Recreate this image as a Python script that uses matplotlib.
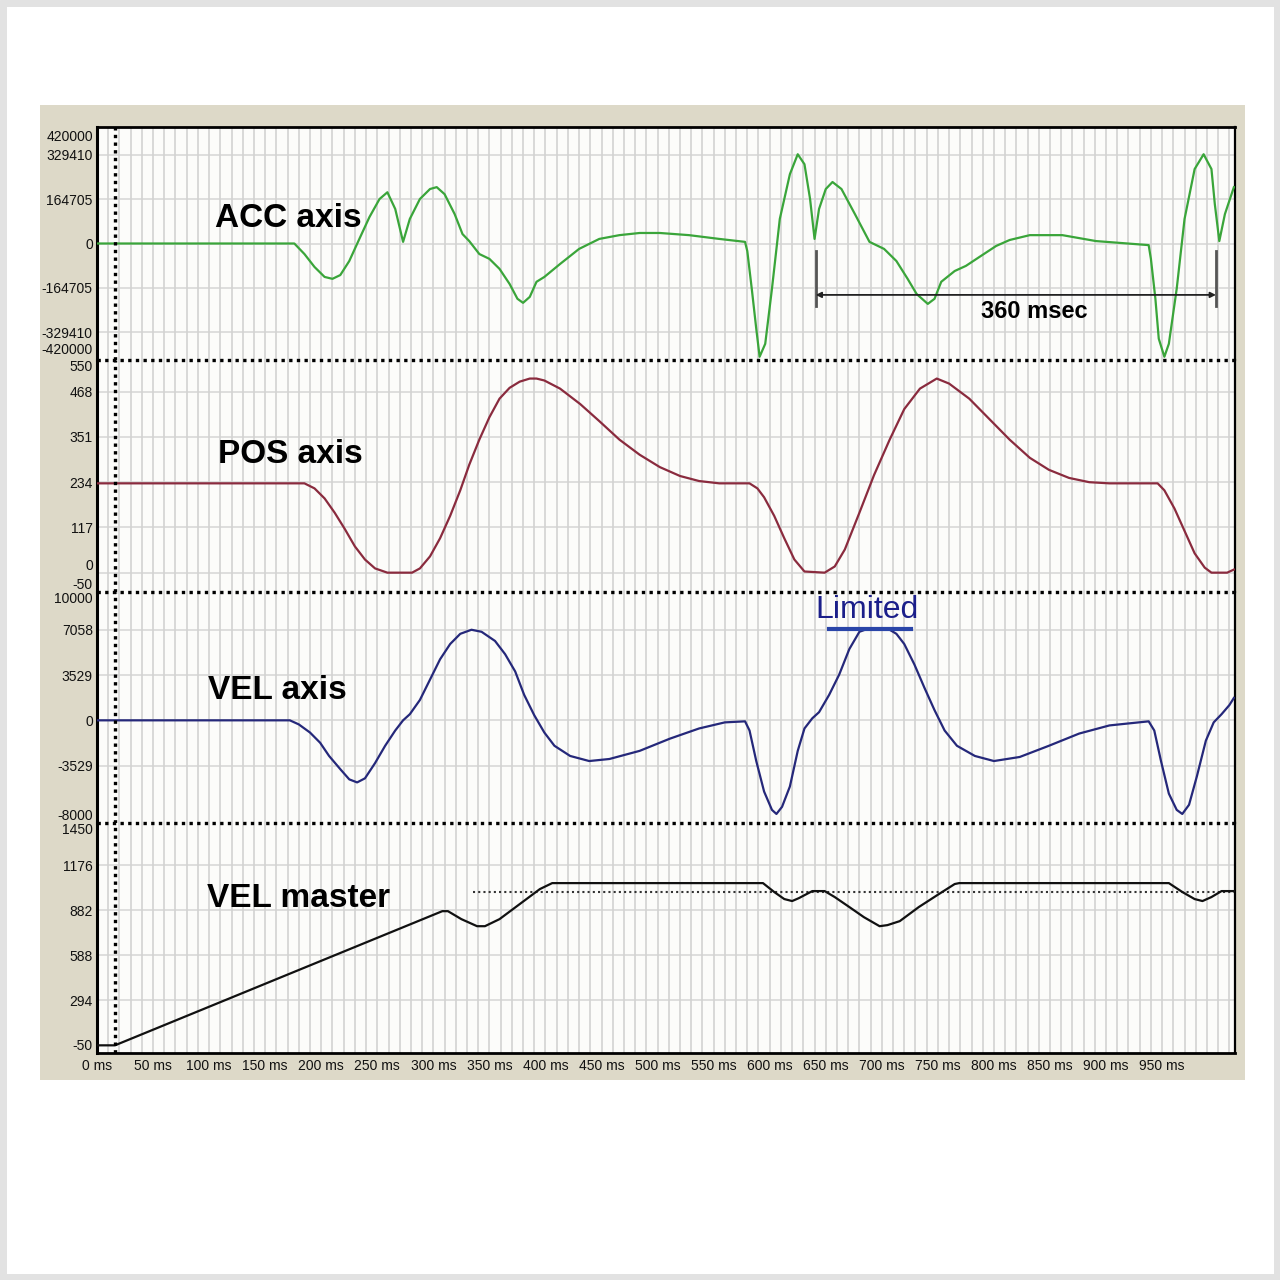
import numpy as np
import matplotlib
matplotlib.use("Agg")
import matplotlib.pyplot as plt
from matplotlib.patches import Rectangle
from matplotlib.lines import Line2D
from matplotlib.ticker import MultipleLocator

plt.rcParams['font.family'] = ['Liberation Sans', 'DejaVu Sans']

# ---- data (time in ms) ----
acc_t = [0, 16, 176, 185, 194, 203, 210, 217, 225, 234, 243, 252, 259, 266, 273, 279,
         288, 297, 303, 310, 319, 326, 332, 341, 350, 359, 368, 375, 380, 386, 392, 399,
         413, 430, 448, 466, 484, 502, 528, 555, 578, 580, 584, 588, 591, 596, 602, 609,
         618, 625, 631, 636, 640, 644, 650, 656, 664, 676, 689, 702, 713, 723, 731, 741,
         747, 753, 765, 775, 787, 802, 814, 832, 861, 891, 938, 940, 944, 947, 952, 956,
         963, 970, 979, 987, 994, 997, 1001, 1006, 1014]
acc_v = [0, 0, 0, -39000, -87000, -124000, -131000, -117000, -65000, 17000, 98000, 165000,
         190000, 128000, 6000, 91000, 165000, 202000, 209000, 183000, 109000, 35000, 9000,
         -39000, -57000, -94000, -150000, -205000, -220000, -198000, -142000, -124000,
         -76000, -20000, 17000, 31000, 39000, 39000, 31000, 17000, 6000, -28000, -168000,
         -316000, -420000, -372000, -168000, 91000, 257000, 331000, 294000, 165000, 17000,
         128000, 202000, 228000, 202000, 109000, 6000, -20000, -65000, -131000, -187000,
         -224000, -205000, -142000, -102000, -83000, -50000, -9000, 13000, 31000, 31000,
         9000, -6000, -57000, -205000, -353000, -420000, -372000, -168000, 91000, 276000,
         331000, 276000, 146000, 9000, 109000, 209000]

pos_t = [0, 185, 194, 203, 212, 221, 230, 239, 248, 259, 281, 288, 297, 306, 315, 324,
         332, 341, 350, 359, 368, 377, 386, 392, 399, 413, 431, 448, 466, 484, 502, 520,
         537, 555, 582, 589, 595, 604, 613, 622, 631, 649, 658, 667, 680, 693, 707, 720,
         734, 749, 760, 778, 796, 814, 832, 849, 867, 885, 903, 946, 952, 961, 970, 979,
         988, 994, 1008, 1014]
pos_v = [231, 231, 218, 192, 155, 113, 68, 34, 11, 0, 0, 11, 42, 89, 147, 213, 279, 344,
         402, 450, 478, 494, 502, 502, 497, 476, 436, 392, 344, 305, 273, 250, 237, 231,
         231, 218, 195, 147, 89, 34, 3, 0, 16, 60, 155, 252, 344, 423, 476, 502, 489, 450,
         397, 344, 297, 266, 245, 234, 231, 231, 213, 166, 108, 50, 13, 0, 0, 8]

vel_t = [0, 172, 180, 190, 199, 207, 217, 225, 232, 239, 248, 257, 266, 273, 279, 288,
         297, 306, 315, 324, 334, 343, 355, 364, 373, 381, 390, 399, 408, 422, 439, 457,
         484, 511, 537, 560, 578, 582, 588, 595, 602, 606, 611, 618, 625, 631, 638, 644,
         653, 662, 671, 680, 685, 707, 713, 720, 729, 738, 747, 756, 767, 783, 800, 823,
         849, 876, 903, 938, 943, 949, 956, 963, 968, 974, 981, 989, 996, 1003, 1010, 1014]
vel_v = [0, 0, -317, -952, -1745, -2776, -3806, -4600, -4837, -4520, -3331, -1983, -793,
         0, 476, 1586, 3172, 4758, 5948, 6741, 7058, 6899, 6185, 5155, 3806, 1983, 397,
         -952, -1983, -2776, -3172, -3013, -2379, -1427, -634, -159, -79, -793, -3172,
         -5551, -6978, -7296, -6740, -5155, -2379, -634, 159, 634, 1983, 3569, 5551, 6899,
         7058, 7058, 6741, 5948, 4362, 2538, 793, -793, -1983, -2776, -3172, -2855, -1983,
         -1031, -397, -79, -793, -3172, -5710, -6978, -7296, -6582, -4362, -1586, -159,
         476, 1190, 1745]

mst_t = [0, 16, 308, 313, 325, 339, 346, 359, 377, 395, 406, 594, 604, 613, 620, 626,
         638, 649, 658, 671, 684, 698, 705, 716, 733, 751, 765, 769, 956, 968, 979, 986,
         994, 1003, 1014]
mst_v = [0, 0, 875, 875, 823, 777, 777, 823, 921, 1019, 1058, 1058, 1000, 954, 941, 960,
         1006, 1006, 967, 902, 836, 777, 784, 810, 902, 987, 1052, 1058, 1058, 1000, 954,
         941, 967, 1006, 1006]
mst_limit = 1000
mst_limit_t = [335, 1014]

acc_ticks = [420000, 329410, 164705, 0, -164705, -329410, -420000]
pos_ticks = [550, 468, 351, 234, 117, 0, -50]
vel_ticks = [10000, 7058, 3529, 0, -3529, -8000]
mst_ticks = [1450, 1176, 882, 588, 294, -50]
x_ticks = list(range(0, 1000, 50))

cursor_t = 16
span_t = [641, 998]

fig = plt.figure(figsize=(12.8, 12.8), dpi=100)
fig.patch.set_facecolor('white')
fig.add_artist(Rectangle((0.002, 0.002), 0.996, 0.996, transform=fig.transFigure,
                         facecolor='none', edgecolor='#e2e2e2', lw=5))
fig.add_artist(Rectangle((0.03125, 0.15625), 0.9414, 0.7617, transform=fig.transFigure,
                         facecolor='#ddd9c8', edgecolor='none', zorder=0))

left, width = 97 / 1280, (1235 - 97) / 1280
bounds = [(127, 360), (360, 592), (592, 823), (823, 1053)]
dot = (0, (1, 1.3))

panels = [
    (acc_t, acc_v, '#3aa53a', acc_ticks, (-432000, 432000)),
    (pos_t, pos_v, '#8a2b3e', pos_ticks, (-50, 550)),
    (vel_t, vel_v, '#25287a', vel_ticks, (-8000, 10000)),
    (mst_t, mst_v, '#111111', mst_ticks, (-50, 1450)),
]

axes = []
for i, (t, v, col, ticks, ylim) in enumerate(panels):
    top, bot = bounds[i]
    ax = fig.add_axes([left, 1 - bot / 1280, width, (bot - top) / 1280],
                      sharex=axes[0] if axes else None)
    ax.set_facecolor('#fcfcfa')
    ax.set_xlim(0, 1015)
    ax.set_ylim(*ylim)
    ax.xaxis.set_minor_locator(MultipleLocator(10))
    ax.grid(which='both', axis='x', color='#d2d2d2', lw=1.2)
    for tk in ticks[1:-1]:
        ax.axhline(tk, color='#d8d8d8', lw=1.2, zorder=1)
    ax.plot(t, v, color=col, lw=1.6, zorder=3)
    ax.axvline(cursor_t, color='black', lw=2.4, linestyle=dot, zorder=4)

    ax.set_yticks(ticks)
    ax.set_yticklabels([str(k) for k in ticks])
    labs = ax.get_yticklabels()
    labs[0].set_va('top')
    labs[-1].set_va('bottom')
    ax.tick_params(axis='y', length=0, pad=3, labelsize=10, labelcolor='#111111')
    ax.tick_params(axis='x', which='both', length=0)

    ax.spines['left'].set_linewidth(2.2)
    ax.spines['right'].set_linewidth(1.6)
    ax.spines['top'].set_visible(i == 0)
    ax.spines['top'].set_linewidth(2)
    ax.spines['bottom'].set_linewidth(2)
    if i < 3:
        ax.spines['bottom'].set_visible(False)
        ax.tick_params(axis='x', labelbottom=False)
    axes.append(ax)

ax_acc, ax_pos, ax_vel, ax_mst = axes

# the "0" label of POS sits just above the "-50" one
ax_pos.get_yticklabels()[5].set_va('bottom')

# dotted separators between the panels
for _, bot in bounds[:3]:
    yf = 1 - bot / 1280
    fig.add_artist(Line2D([left, left + width], [yf, yf], transform=fig.transFigure,
                          color='black', lw=2.4, linestyle=dot, zorder=10))

ax_mst.set_xticks(x_ticks)
ax_mst.set_xticklabels([f"{k} ms" for k in x_ticks])
ax_mst.tick_params(axis='x', pad=4, labelsize=10, labelcolor='#111111')

# panel titles
title_kw = dict(fontsize=24, fontweight='bold', ha='left', va='center', zorder=5)
ax_acc.text(105, 94000, 'ACC axis', **title_kw)
ax_pos.text(108, 305, 'POS axis', **title_kw)
ax_vel.text(99, 2300, 'VEL axis', **title_kw)
ax_mst.text(98, 960, 'VEL master', **title_kw)

# 360 msec span
for st in span_t:
    ax_acc.plot([st, st], [-27800, -231000], color='#555555', lw=2, zorder=4)
ax_acc.annotate('', xy=(span_t[1], -190600), xytext=(span_t[0], -190600),
                arrowprops=dict(arrowstyle='<|-|>', color='#222222', lw=1.3,
                                mutation_scale=8, shrinkA=0, shrinkB=0), zorder=4)
ax_acc.text(836, -253500, '360 msec', fontsize=17, fontweight='bold',
            ha='center', va='center', zorder=5)

# velocity limit
ax_vel.text(687, 8600, 'Limited', fontsize=23, color='#1b1f8a',
            ha='center', va='center', zorder=5)
ax_vel.plot([653, 726], [7137, 7137], color='#2a45a8', lw=3, zorder=4)

# master reference level
ax_mst.plot(mst_limit_t, [mst_limit, mst_limit], color='#333333', lw=1.5,
            linestyle=(0, (1, 1.5)), zorder=2)

fig.savefig('out.png', dpi=100)
